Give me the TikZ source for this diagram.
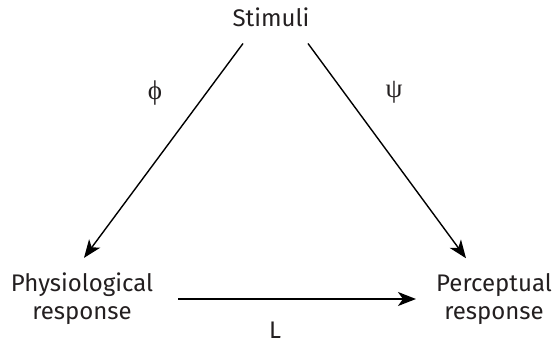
\documentclass[tikz,border=0pt]{standalone}
\usepackage{fontspec}
\setmainfont{Fira Sans}
\newfontfamily\greekfont{Liberation Serif}
\usetikzlibrary{arrows.meta}
\definecolor{ink}{RGB}{35,31,32}
\begin{document}
\begin{tikzpicture}[x=1pt,y=-1pt,
  lbl/.style={font=\fontsize{24}{28}\selectfont, text=ink, align=center, inner sep=3pt},
  grk/.style={font=\greekfont\fontsize{27}{28}\selectfont, text=ink, inner sep=0pt},
  arr/.style={-{Stealth[length=18pt,width=14pt,inset=5pt]}, line width=1.4pt}]
\useasboundingbox (0,0) rectangle (555,343);
\node[lbl, anchor=base] (stim) at (271,26) {Stimuli};
\node[lbl] (phys) at (82,299) {Physiological\\response};
\node[lbl] (perc) at (494,299) {Perceptual\\response};
\draw[arr] ([xshift=-28pt,yshift=-14pt]stim.south) -- ([xshift=2pt,yshift=12pt]phys.north);
\draw[arr] ([xshift=37pt,yshift=-14pt]stim.south) -- ([xshift=-28pt,yshift=12pt]perc.north);
\draw[arr, line width=1.8pt, shorten <=22pt, shorten >=17pt] (phys.east) -- (perc.west);
\node[grk] (phi) at (155,93) {ϕ};
\node[grk] (psi) at (394,92) {ψ};
\node[lbl, anchor=base] (L) at (275,338) {L};
\end{tikzpicture}
\end{document}
